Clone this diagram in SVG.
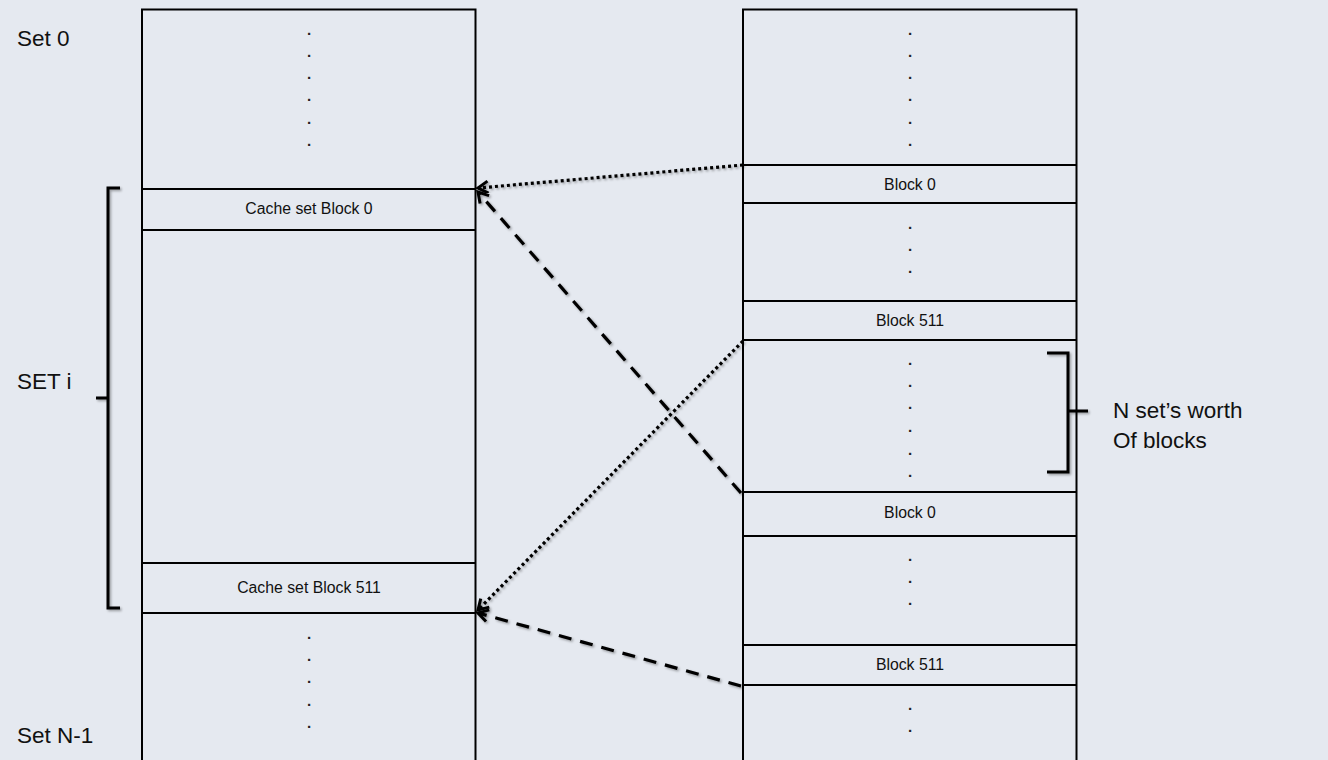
<svg xmlns="http://www.w3.org/2000/svg" width="1328" height="760" viewBox="0 0 1328 760">
<style>
.box{fill:none;stroke:#000;stroke-width:2}
.sep{stroke:#000;stroke-width:2}
.lbl{font-family:"Liberation Sans",Arial,sans-serif;font-size:15.8px;fill:#111;text-anchor:middle}
.dot{font-family:"Liberation Sans",Arial,sans-serif;font-size:15px;font-weight:bold;fill:#222;text-anchor:middle}
.big{font-family:"Liberation Sans",Arial,sans-serif;font-size:22.5px;fill:#111}
.brace{fill:none;stroke:#000;stroke-width:3;filter:url(#sh)}
.dotted{fill:none;stroke:#000;stroke-width:3.2;stroke-dasharray:3 3;marker-end:url(#arr);filter:url(#sh)}
.dashed{fill:none;stroke:#000;stroke-width:3.2;stroke-dasharray:13 9;marker-end:url(#arr);filter:url(#sh)}
</style>
<defs>
<filter id="sh" x="-20%" y="-20%" width="140%" height="140%">
<feDropShadow dx="1.5" dy="1.5" stdDeviation="1" flood-color="#000" flood-opacity="0.35"/>
</filter>
<marker id="arr" markerUnits="userSpaceOnUse" markerWidth="16" markerHeight="18" viewBox="-13 -9 16 18" refX="0" refY="0" orient="auto" overflow="visible">
<path d="M-10,-6 L0,0 L-10,6" fill="none" stroke="#000" stroke-width="3"/>
</marker>
</defs>
<rect width="1328" height="760" fill="#e5e9f0"/>

<g id="left-labels">
<text class="big" x="17" y="46">Set 0</text>
<text class="big" x="17" y="389">SET i</text>
<text class="big" x="17" y="743">Set N-1</text>
</g>

<g id="cache">
<rect class="box" x="142" y="9.5" width="333.5" height="760"/>
<line class="sep" x1="142" y1="189" x2="475.5" y2="189"/>
<line class="sep" x1="142" y1="230" x2="475.5" y2="230"/>
<line class="sep" x1="142" y1="563" x2="475.5" y2="563"/>
<line class="sep" x1="142" y1="613" x2="475.5" y2="613"/>
<g class="dot">
<text x="309" y="35">.</text><text x="309" y="57">.</text><text x="309" y="79">.</text><text x="309" y="101">.</text><text x="309" y="124">.</text><text x="309" y="146">.</text>
<text x="309" y="639">.</text><text x="309" y="661">.</text><text x="309" y="683">.</text><text x="309" y="706">.</text><text x="309" y="728">.</text>
</g>
<text class="lbl" x="309" y="214">Cache set Block 0</text>
<text class="lbl" x="309" y="593">Cache set Block 511</text>
</g>

<g id="memory">
<rect class="box" x="743" y="9.5" width="333.5" height="760"/>
<line class="sep" x1="743" y1="165" x2="1076.5" y2="165"/>
<line class="sep" x1="743" y1="203" x2="1076.5" y2="203"/>
<line class="sep" x1="743" y1="301" x2="1076.5" y2="301"/>
<line class="sep" x1="743" y1="340" x2="1076.5" y2="340"/>
<line class="sep" x1="743" y1="492" x2="1076.5" y2="492"/>
<line class="sep" x1="743" y1="536" x2="1076.5" y2="536"/>
<line class="sep" x1="743" y1="645" x2="1076.5" y2="645"/>
<line class="sep" x1="743" y1="685" x2="1076.5" y2="685"/>
<g class="dot">
<text x="910" y="35">.</text><text x="910" y="57">.</text><text x="910" y="79">.</text><text x="910" y="101">.</text><text x="910" y="124">.</text><text x="910" y="146">.</text>
<text x="910" y="229">.</text><text x="910" y="251">.</text><text x="910" y="273">.</text>
<text x="910" y="365">.</text><text x="910" y="387">.</text><text x="910" y="409">.</text><text x="910" y="432">.</text><text x="910" y="455">.</text><text x="910" y="477">.</text>
<text x="910" y="561">.</text><text x="910" y="583">.</text><text x="910" y="605">.</text>
<text x="910" y="710">.</text><text x="910" y="732">.</text>
</g>
<text class="lbl" x="910" y="190">Block 0</text>
<text class="lbl" x="910" y="326">Block 511</text>
<text class="lbl" x="910" y="518">Block 0</text>
<text class="lbl" x="910" y="670">Block 511</text>
</g>

<g id="set-i-bracket">
<path class="brace" d="M120,188 L108,188 L108,608 L120,608 M108,398 L96,398"/>
</g>

<g id="n-sets-brace">
<path class="brace" d="M1047,353 L1068,353 L1068,472 L1047,472 M1068,411 L1088,411"/>
<text class="big" x="1113" y="418">N set’s worth</text>
<text class="big" x="1113" y="448">Of blocks</text>
</g>

<g id="connectors">
<path class="dotted" d="M743,165 L478,188"/>
<path class="dashed" d="M741,493 L478,192"/>
<path class="dotted" d="M743,341 L478,610"/>
<path class="dashed" d="M741,686 L478,613"/>
</g>
</svg>
